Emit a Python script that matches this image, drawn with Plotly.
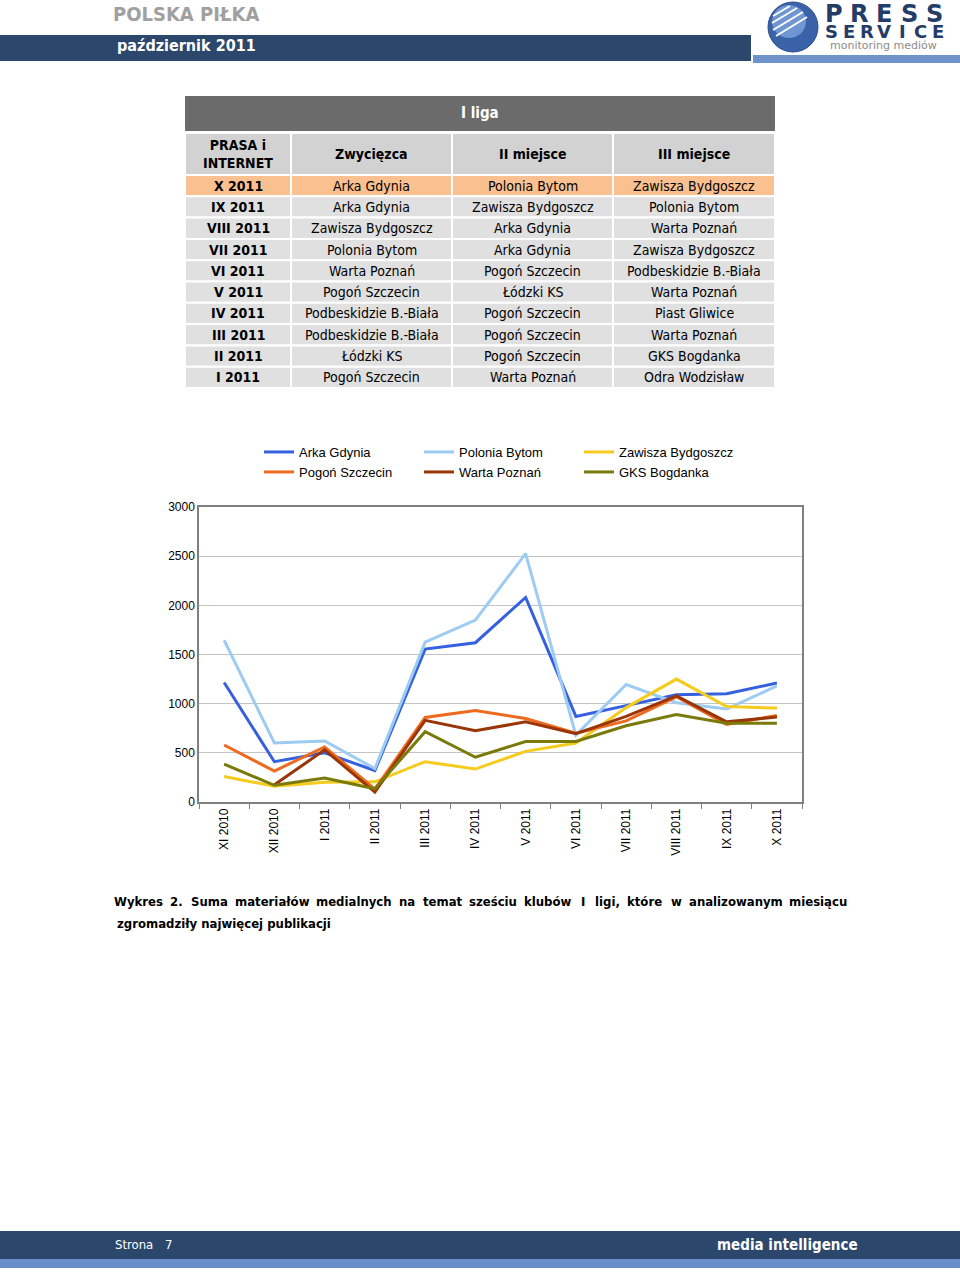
import plotly.graph_objects as go

W, H = 960, 1277


def fx(x):
    return x / W


def fy(y):
    return 1 - y / H


# ---------------- chart data ----------------
months = ["XI 2010", "XII 2010", "I 2011", "II 2011", "III 2011", "IV 2011",
          "V 2011", "VI 2011", "VII 2011", "VIII 2011", "IX 2011", "X 2011"]

arka_gdynia = [1215, 410, 500, 320, 1555, 1620, 2080, 870, 980, 1090, 1100, 1210]
polonia_bytom = [1645, 600, 620, 340, 1625, 1850, 2525, 680, 1195, 1010, 945, 1180]
zawisza_bydgoszcz = [260, 160, 200, 205, 410, 335, 515, 600, 960, 1250, 970, 955]
pogon_szczecin = [580, 315, 560, 130, 860, 930, 850, 700, 825, 1070, 790, 880]
warta_poznan = [None, 175, 530, 100, 830, 725, 815, 695, 870, 1080, 815, 865]
gks_bogdanka = [385, 170, 245, 135, 715, 455, 615, 615, 775, 890, 800, 800]

series_names = ["Arka Gdynia", "Polonia Bytom", "Zawisza Bydgoszcz",
                "Pogoń Szczecin", "Warta Poznań", "GKS Bogdanka"]
series_values = [arka_gdynia, polonia_bytom, zawisza_bydgoszcz,
                 pogon_szczecin, warta_poznan, gks_bogdanka]
series_colors = ["#3560E0", "#9DCBF2", "#F5CB1E", "#EE6A1E", "#9A3508", "#7A7A0A"]
series_legends = ["legend", "legend", "legend", "legend2", "legend2", "legend2"]

# ---------------- table data ----------------
table_title = "I liga"
table_headers = ["PRASA i<br>INTERNET", "Zwycięzca", "II miejsce", "III miejsce"]
table_months = ["X 2011", "IX 2011", "VIII 2011", "VII 2011", "VI 2011",
                "V 2011", "IV 2011", "III 2011", "II 2011", "I 2011"]
table_first = ["Arka Gdynia", "Arka Gdynia", "Zawisza Bydgoszcz", "Polonia Bytom",
               "Warta Poznań", "Pogoń Szczecin", "Podbeskidzie B.-Biała",
               "Podbeskidzie B.-Biała", "Łódzki KS", "Pogoń Szczecin"]
table_second = ["Polonia Bytom", "Zawisza Bydgoszcz", "Arka Gdynia", "Arka Gdynia",
                "Pogoń Szczecin", "Łódzki KS", "Pogoń Szczecin", "Pogoń Szczecin",
                "Pogoń Szczecin", "Warta Poznań"]
table_third = ["Zawisza Bydgoszcz", "Polonia Bytom", "Warta Poznań", "Zawisza Bydgoszcz",
               "Podbeskidzie B.-Biała", "Warta Poznań", "Piast Gliwice", "Warta Poznań",
               "GKS Bogdanka", "Odra Wodzisław"]

caption_words = ["Wykres", "2.", "Suma", "materiałów", "medialnych", "na", "temat",
                 "sześciu", "klubów", "I", "ligi,", "które", "w", "analizowanym", "miesiącu"]
caption_centers = [138, 176, 209, 272, 354, 407, 443, 493, 548, 583, 607, 644, 676, 736, 818]
caption_line2 = "zgromadziły najwięcej publikacji"

TFONT = "DejaVu Sans Condensed, Liberation Sans Narrow, DejaVu Sans, sans-serif"
AFONT = "Liberation Sans, Arial, sans-serif"
NAVY = "#2B486C"

fig = go.Figure()

# ---------------- lines ----------------
for name, vals, color, lg in zip(series_names, series_values, series_colors, series_legends):
    fig.add_trace(go.Scatter(x=months, y=vals, name=name, mode="lines",
                             line=dict(color=color, width=3), legend=lg,
                             connectgaps=False, xaxis="x", yaxis="y"))

shapes = []
ann = []


def add_rect(x0, x1, y0, y1, color, line_color=None, line_width=0, layer="below"):
    shapes.append(dict(type="rect", xref="paper", yref="paper", x0=fx(x0), x1=fx(x1),
                       y0=fy(y1), y1=fy(y0), fillcolor=color, layer=layer,
                       line=dict(color=line_color or color, width=line_width)))


def add_text(text, x, y, size, color, family=TFONT, xanchor="left", bold=False,
             yanchor="middle"):
    ann.append(dict(text=f"<b>{text}</b>" if bold else text, x=fx(x), y=fy(y),
                    xref="paper", yref="paper", xanchor=xanchor, yanchor=yanchor,
                    showarrow=False, font=dict(family=family, size=size, color=color)))


# header band + logo
add_rect(0, 751, 35, 61, NAVY)
add_rect(753, 960, 55, 63, "#6E93CB")
shapes.append(dict(type="circle", xref="paper", yref="paper", x0=fx(768), x1=fx(818),
                   y0=fy(52), y1=fy(2), fillcolor="#3A62A8", line=dict(color="#2C4E8C", width=1)))
shapes.append(dict(type="circle", xref="paper", yref="paper", x0=fx(772), x1=fx(806),
                   y0=fy(38), y1=fy(5), fillcolor="#6F96D2", line=dict(width=0)))
for (ax, ay, bx, by) in [(773, 16, 790, 6), (772, 23, 797, 8), (773, 30, 803, 12), (776, 36, 807, 17)]:
    shapes.append(dict(type="line", xref="paper", yref="paper", x0=fx(ax), y0=fy(ay),
                       x1=fx(bx), y1=fy(by), line=dict(color="white", width=2)))

add_text("POLSKA PIŁKA", 111, 0, 20, "#A0A0A0", bold=True, yanchor="top")
add_text("październik 2011", 115, 46, 16, "white", bold=True)
for i, ch in enumerate("PRESS"):
    add_text(ch, 834 + i * 25, 14, 24, "#243C68", family="DejaVu Sans, sans-serif",
             xanchor="center", bold=True)
for i, ch in enumerate("SERVICE"):
    add_text(ch, 831 + i * 17.8, 31, 18, "#243C68", family="DejaVu Sans, sans-serif",
             xanchor="center", bold=True)
add_text("monitoring mediów", 883, 46, 11, "#8C8C8C", family="DejaVu Sans, sans-serif",
         xanchor="center")

# ---------------- table (cells as rectangles, text as annotations) ----------------
col_edges = [185, 291, 452, 613, 775]
title_top, title_bot = 96, 131
head_top, head_bot = 133, 175
row_h = 21.3
table_columns = [[f"<b>{m}</b>" for m in table_months], table_first, table_second, table_third]

add_rect(col_edges[0], col_edges[-1], title_top, title_bot, "#6B6B6B", layer="above")
add_text(table_title, (col_edges[0] + col_edges[-1]) / 2, (title_top + title_bot) / 2,
         15, "white", xanchor="center", bold=True)
for c in range(4):
    x0, x1 = col_edges[c], col_edges[c + 1]
    add_rect(x0, x1, head_top, head_bot, "#D2D2D2", "white", 2, layer="above")
    add_text(table_headers[c], (x0 + x1) / 2, (head_top + head_bot) / 2, 14, "black",
             xanchor="center", bold=True)
    for r, val in enumerate(table_columns[c]):
        y0 = head_bot + r * row_h
        fill = "#FAC090" if r == 0 else "#E0E0E0"
        add_rect(x0, x1, y0, y0 + row_h, fill, "white", 2, layer="above")
        add_text(val, (x0 + x1) / 2, y0 + row_h / 2, 14, "black", xanchor="center")

# caption
for w, c in zip(caption_words, caption_centers):
    add_text(w, c, 901, 13, "black", xanchor="center", bold=True)
add_text(caption_line2, 115, 924, 13, "black", bold=True)

# footer
add_rect(0, 960, 1231, 1259, NAVY)
add_rect(0, 960, 1259, 1268, "#6B8FCB")
add_text("Strona", 113, 1244, 13, "white")
add_text("7", 163, 1244, 13, "white")
add_text("media intelligence", 715, 1245, 15, "white", bold=True)

legend_common = dict(orientation="h", xanchor="left", yanchor="top",
                     entrywidth=115, entrywidthmode="pixels",
                     bgcolor="rgba(0,0,0,0)", borderwidth=0,
                     font=dict(family=AFONT, size=13, color="black"),
                     itemclick=False, itemdoubleclick=False)

# width/height come from the div (960x1277) through autosize; the div is pinned
# to the page's top-left corner so body margins cannot shift or stretch it.
fig.update_layout(
    autosize=True,
    margin=dict(l=0, r=0, t=0, b=0, autoexpand=False),
    paper_bgcolor="white", plot_bgcolor="white",
    showlegend=True,
    legend=dict(x=fx(259), y=fy(437), **legend_common),
    legend2=dict(x=fx(259), y=fy(457), **legend_common),
    xaxis=dict(domain=[fx(199), fx(802)], type="category", range=[-0.5, 11.5],
               automargin=False,
               showgrid=False, showline=True, linecolor="#808080", linewidth=1.5,
               mirror=True, ticks="outside", tickson="boundaries", ticklen=5,
               tickcolor="#808080", tickangle=-90,
               tickfont=dict(family=AFONT, size=12, color="black")),
    yaxis=dict(domain=[fy(802), fy(507)], range=[0, 3000], dtick=500,
               automargin=False,
               showgrid=True, gridcolor="#C4C4C4", gridwidth=1,
               showline=True, linecolor="#808080", linewidth=1.5, mirror=True,
               ticks="", zeroline=False,
               tickfont=dict(family=AFONT, size=12, color="black")),
    shapes=shapes, annotations=ann,
)

fig.write_html("out.html", config={"displayModeBar": False},
               default_width=f"{W}px",
               default_height=f"{H}px; position:absolute; top:0px; left:0px")
